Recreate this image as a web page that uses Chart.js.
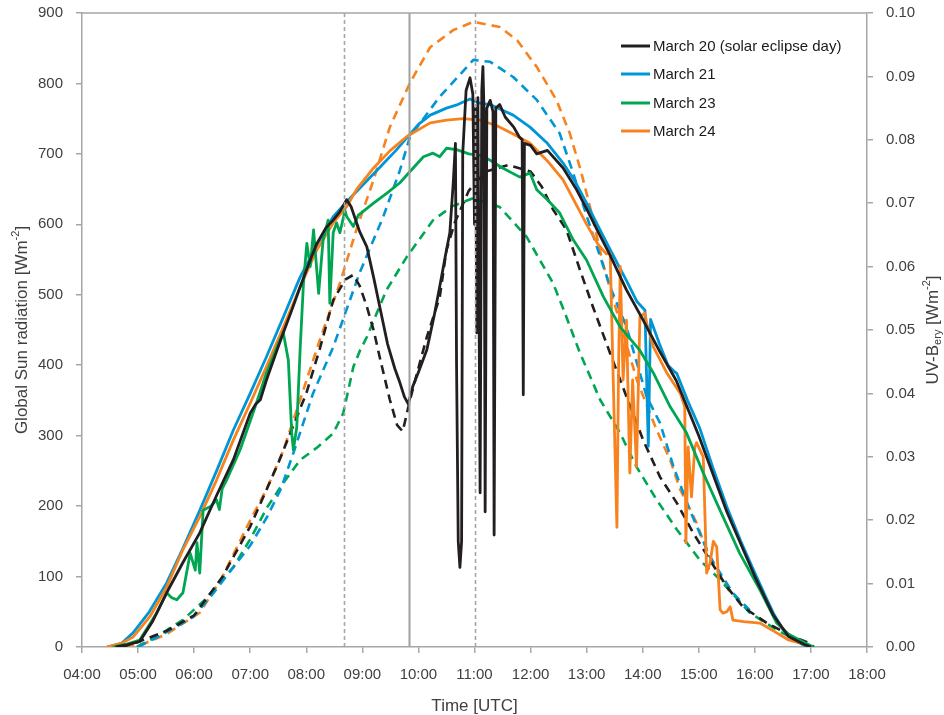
<!DOCTYPE html>
<html>
<head>
<meta charset="utf-8">
<script src="https://cdn.jsdelivr.net/npm/chart.js@4.4.1/dist/chart.umd.min.js"></script>
<style>
  html, body { margin: 0; padding: 0; background: #fff; }
</style>
</head>
<body>
<canvas id="chart" width="944" height="715"></canvas>
<script>
// readings as [hour UTC, value]; global radiation in W/m2, UV-B in W/m2
const mar20Global = [[4.6,0],[4.8,3],[5.03,8],[5.25,35],[5.51,77],[5.8,120],[6.1,162],[6.4,215],[6.7,266],[6.9,310],[7.0,332],[7.1,345],[7.18,351],[7.29,379],[7.45,415],[7.59,446],[7.75,480],[7.89,511],[8.05,545],[8.19,573],[8.35,595],[8.48,606],[8.6,618],[8.72,635],[8.8,625],[8.95,590],[9.08,568],[9.2,525],[9.31,483],[9.45,430],[9.58,395],[9.67,375],[9.75,355],[9.82,345],[9.9,370],[10.0,390],[10.15,422],[10.28,470],[10.39,516],[10.48,555],[10.56,588],[10.62,658],[10.66,715],[10.68,400],[10.71,150],[10.74,113],[10.77,150],[10.79,700],[10.85,790],[10.92,808],[10.97,785],[11.0,600],[11.02,765],[11.04,446],[11.06,780],[11.1,219],[11.13,790],[11.15,824],[11.17,760],[11.19,192],[11.22,765],[11.28,776],[11.33,760],[11.35,159],[11.38,765],[11.45,770],[11.55,752],[11.7,738],[11.8,724],[11.85,720],[11.87,358],[11.89,715],[12.0,712],[12.11,700],[12.3,705],[12.58,680],[12.8,652],[13.0,622],[13.2,590],[13.42,556],[13.71,507],[14.0,465],[14.3,420],[14.6,378],[15.0,300],[15.5,192],[16.0,100],[16.33,45],[16.6,15],[16.9,3],[17.0,0]];
const mar21Global = [[4.45,0],[4.7,5],[4.91,20],[5.2,50],[5.51,91],[5.8,140],[6.1,194],[6.4,250],[6.7,308],[7.0,360],[7.29,412],[7.6,470],[7.89,525],[8.2,572],[8.48,611],[8.72,632],[9.0,655],[9.3,680],[9.6,705],[9.85,728],[10.0,742],[10.21,755],[10.5,765],[10.7,770],[10.92,778],[11.1,772],[11.28,770],[11.5,762],[11.69,755],[11.99,738],[12.3,715],[12.58,687],[12.8,660],[13.0,630],[13.2,598],[13.42,564],[13.71,520],[13.9,490],[14.04,478],[14.07,380],[14.1,285],[14.14,465],[14.3,430],[14.45,400],[14.55,392],[14.61,388],[14.8,350],[15.02,310],[15.25,255],[15.5,199],[15.75,150],[16.0,105],[16.2,70],[16.33,48],[16.5,25],[16.7,10],[16.86,3],[17.0,0]];
const mar23Global = [[4.55,0],[4.8,4],[5.03,10],[5.33,48],[5.51,77],[5.6,70],[5.69,67],[5.8,77],[5.93,133],[6.02,109],[6.05,148],[6.1,105],[6.16,194],[6.3,200],[6.4,209],[6.45,195],[6.5,225],[6.58,237],[6.82,280],[7.05,332],[7.29,389],[7.45,420],[7.53,436],[7.59,446],[7.68,407],[7.74,304],[7.77,280],[7.83,312],[7.89,422],[7.95,517],[8.01,573],[8.07,540],[8.13,592],[8.22,502],[8.3,578],[8.39,606],[8.42,488],[8.48,588],[8.54,602],[8.6,588],[8.69,620],[8.72,611],[8.84,597],[8.93,613],[9.2,630],[9.45,645],[9.67,659],[9.85,675],[10.09,696],[10.26,701],[10.38,696],[10.5,708],[10.68,706],[10.9,700],[11.1,698],[11.28,691],[11.5,680],[11.81,667],[11.99,673],[12.11,649],[12.3,635],[12.52,616],[12.76,578],[13.0,549],[13.3,497],[13.6,454],[13.95,421],[14.19,389],[14.49,341],[14.78,304],[15.08,247],[15.38,194],[15.73,133],[16.09,81],[16.39,34],[16.6,18],[16.8,10],[17.04,0]];
const mar24Global = [[4.44,0],[4.7,5],[4.91,14],[5.21,43],[5.51,85],[5.8,138],[6.1,185],[6.4,237],[6.7,294],[7.0,346],[7.29,398],[7.59,454],[7.89,511],[8.19,564],[8.48,602],[8.72,625],[8.9,650],[9.2,680],[9.5,705],[9.8,725],[10.21,744],[10.5,748],[10.8,750],[11.1,748],[11.4,740],[11.7,728],[11.99,715],[12.3,690],[12.58,663],[12.8,630],[13.0,600],[13.2,572],[13.35,558],[13.42,559],[13.48,360],[13.54,170],[13.57,400],[13.6,540],[13.65,379],[13.71,464],[13.77,247],[13.82,379],[13.89,256],[13.95,469],[14.04,474],[14.07,460],[14.19,426],[14.43,389],[14.67,360],[14.75,341],[14.77,148],[14.81,284],[14.87,213],[14.93,284],[14.96,290],[15.08,270],[15.14,105],[15.2,119],[15.26,150],[15.32,142],[15.38,53],[15.43,48],[15.5,50],[15.56,57],[15.61,38],[15.8,36],[16.09,34],[16.39,20],[16.6,10],[16.8,6],[17.04,0]];

const mar20UVB = [[4.7,0],[5.0,0.0008],[5.5,0.0025],[6.0,0.005],[6.5,0.011],[7.0,0.019],[7.5,0.029],[8.0,0.040],[8.24,0.047],[8.48,0.0547],[8.7,0.058],[8.84,0.0587],[8.95,0.057],[9.08,0.0537],[9.2,0.05],[9.31,0.0457],[9.49,0.039],[9.62,0.035],[9.72,0.034],[9.85,0.039],[10.0,0.044],[10.15,0.0489],[10.38,0.0552],[10.5,0.0626],[10.65,0.067],[10.9,0.072],[11.2,0.075],[11.6,0.076],[12.0,0.075],[12.2,0.0726],[12.4,0.069],[12.64,0.0658],[12.88,0.0595],[13.11,0.0537],[13.42,0.0463],[13.71,0.0395],[14.01,0.0326],[14.31,0.0268],[14.61,0.0227],[14.9,0.018],[15.2,0.0137],[15.5,0.0095],[15.79,0.0063],[16.21,0.0038],[16.68,0.0016],[16.98,0.0006],[17.05,0]];
const mar21UVB = [[5.0,0],[5.4,0.0018],[5.98,0.0047],[6.3,0.008],[6.7,0.0126],[7.0,0.016],[7.3,0.0205],[7.55,0.025],[7.77,0.0306],[8.12,0.040],[8.48,0.0473],[8.95,0.059],[9.37,0.0678],[9.67,0.0752],[9.85,0.0805],[10.38,0.0868],[10.98,0.0926],[11.28,0.0923],[11.69,0.0899],[12.11,0.0863],[12.52,0.081],[12.75,0.075],[13.0,0.068],[13.42,0.0568],[13.71,0.0505],[14.07,0.0395],[14.31,0.0353],[14.55,0.0284],[14.84,0.0216],[15.2,0.0142],[15.61,0.0085],[15.91,0.0058]];
const mar23UVB = [[4.98,0],[5.4,0.002],[5.8,0.0043],[6.2,0.0075],[6.7,0.0126],[7.0,0.017],[7.3,0.022],[7.6,0.026],[7.89,0.0295],[8.2,0.0315],[8.48,0.0337],[8.66,0.0369],[8.84,0.0442],[8.96,0.0468],[9.08,0.0489],[9.43,0.0563],[9.79,0.0615],[10.26,0.0673],[10.6,0.0695],[10.98,0.0708],[11.45,0.0694],[11.93,0.0647],[12.4,0.0574],[12.59,0.0532],[12.88,0.0464],[13.24,0.039],[13.6,0.0337],[13.89,0.0284],[14.25,0.0232],[14.61,0.0185],[15.02,0.0137],[15.38,0.0106],[15.91,0.0054],[16.39,0.0027],[16.8,0.0008],[17.0,0]];
const mar24UVB = [[4.5,0],[5.1,0.0005],[5.5,0.002],[6.1,0.0054],[6.5,0.011],[7.0,0.020],[7.3,0.025],[7.59,0.031],[7.89,0.039],[8.24,0.0484],[8.6,0.0574],[8.9,0.066],[9.2,0.0737],[9.49,0.082],[9.85,0.089],[10.21,0.0946],[10.62,0.0973],[10.98,0.0986],[11.45,0.0978],[11.76,0.0957],[12.11,0.0915],[12.46,0.0863],[12.7,0.081],[12.9,0.075],[13.1,0.068],[13.29,0.0605],[13.6,0.051],[13.9,0.042],[14.25,0.0342],[14.49,0.0295],[14.67,0.0248],[14.96,0.0196],[15.14,0.0153],[15.4,0.011],[15.6,0.008]];

const dayLabels = ["March 20 (solar eclipse day)", "March 21", "March 23", "March 24"];
const dayColors = ["#231F20", "#0096D6", "#00A651", "#F7821E"];
const globalSeries = [mar20Global, mar21Global, mar23Global, mar24Global];
const uvbSeries = [mar20UVB, mar21UVB, mar23UVB, mar24UVB];
// eclipse start, maximum, end (hours UTC)
const eclipseTimes = [8.667, 9.833, 11.0];

const axisGray = "#A6A6A6";
const textColor = "#404040";
const fontFamily = "'Liberation Sans', Arial, sans-serif";
const toPoints = (s) => s.map(([x, y]) => ({ x, y }));

// draw order: black on top, then green, orange, blue, dashed underneath
const drawOrder = [0, 3, 1, 2];
const datasets = [];
dayLabels.forEach((label, i) => {
  datasets.push({
    label,
    data: toPoints(globalSeries[i]),
    borderColor: dayColors[i],
    borderWidth: 2.8,
    yAxisID: "y",
    order: drawOrder[i],
  });
});
dayLabels.forEach((label, i) => {
  datasets.push({
    label: label + " UV-B",
    data: toPoints(uvbSeries[i]),
    borderColor: dayColors[i],
    borderWidth: 2.6,
    borderDash: [9, 6],
    yAxisID: "y2",
    order: 10 + i,
  });
});

function drawRich(ctx, parts, cx, cy, angle) {
  ctx.save();
  ctx.translate(cx, cy);
  ctx.rotate(angle);
  let total = 0;
  parts.forEach((p) => {
    ctx.font = p.size + "px " + fontFamily;
    p.w = ctx.measureText(p.t).width;
    total += p.w;
  });
  let x = -total / 2;
  ctx.textBaseline = "middle";
  ctx.textAlign = "left";
  ctx.fillStyle = textColor;
  parts.forEach((p) => {
    ctx.font = p.size + "px " + fontFamily;
    ctx.fillText(p.t, x, p.dy || 0);
    x += p.w;
  });
  ctx.restore();
}

const decor = {
  id: "decor",
  afterDatasetsDraw(chart) {
    const { ctx, chartArea: a, scales } = chart;
    ctx.save();
    // eclipse markers
    eclipseTimes.forEach((t, i) => {
      const px = Math.round(scales.x.getPixelForValue(t)) + 0.5;
      ctx.beginPath();
      ctx.strokeStyle = i === 1 ? "#A0A0A0" : "#A6A6A6";
      ctx.lineWidth = i === 1 ? 2 : 1.6;
      ctx.setLineDash(i === 1 ? [] : [4, 3]);
      ctx.moveTo(px, a.bottom);
      ctx.lineTo(px, a.top);
      ctx.stroke();
    });
    ctx.setLineDash([]);
    // top edge of plot box
    ctx.beginPath();
    ctx.strokeStyle = axisGray;
    ctx.lineWidth = 1.5;
    ctx.moveTo(a.left, a.top);
    ctx.lineTo(a.right, a.top);
    ctx.stroke();
    // legend (solid series only)
    const rows = [46, 74, 103, 131];
    ctx.font = "15px " + fontFamily;
    ctx.textBaseline = "middle";
    ctx.textAlign = "left";
    dayLabels.forEach((label, i) => {
      ctx.beginPath();
      ctx.strokeStyle = dayColors[i];
      ctx.lineWidth = 3;
      ctx.moveTo(621, rows[i]);
      ctx.lineTo(650, rows[i]);
      ctx.stroke();
      ctx.fillStyle = "#1a1a1a";
      ctx.fillText(label, 653, rows[i] + 1);
    });
    ctx.restore();
  },
  afterDraw(chart) {
    const { ctx, chartArea: a } = chart;
    const mid = (a.top + a.bottom) / 2;
    drawRich(ctx, [{ t: "Time [UTC]", size: 17 }], (a.left + a.right) / 2, 706, 0);
    drawRich(ctx, [
      { t: "Global Sun radiation [Wm", size: 17 },
      { t: "-2", size: 11, dy: -6 },
      { t: "]", size: 17 },
    ], 22, mid, -Math.PI / 2);
    drawRich(ctx, [
      { t: "UV-B", size: 17 },
      { t: "ery", size: 11, dy: 5 },
      { t: " [Wm", size: 17 },
      { t: "-2", size: 11, dy: -6 },
      { t: "]", size: 17 },
    ], 933, mid, -Math.PI / 2);
  },
};

const tickFont = { family: fontFamily, size: 15 };
const gridOpts = { drawOnChartArea: false, tickLength: 6, color: axisGray, lineWidth: 1.5 };
const borderOpts = { color: axisGray, width: 1.5 };
// fixed axis boxes so the plot area sits where the original one does
const fixBox = (w) => (s) => {
  s.width = w;
  s.paddingTop = 0;
  s.paddingBottom = 0;
};

new Chart(document.getElementById("chart"), {
  type: "line",
  data: { datasets },
  options: {
    responsive: false,
    animation: false,
    devicePixelRatio: 1,
    elements: { point: { radius: 0 }, line: { tension: 0, borderCapStyle: "butt", borderJoinStyle: "round" } },
    layout: { padding: { top: 13, left: 0, right: 0, bottom: 0 } },
    plugins: { legend: { display: false }, tooltip: { enabled: false } },
    scales: {
      x: {
        type: "linear",
        min: 4,
        max: 18,
        afterFit: (s) => {
          s.height = 68;
          s.paddingLeft = 0;
          s.paddingRight = 0;
        },
        ticks: {
          stepSize: 1,
          autoSkip: false,
          maxRotation: 0,
          padding: 13,
          color: textColor,
          font: tickFont,
          callback: (v) => (v < 10 ? "0" : "") + v + ":00",
        },
        grid: gridOpts,
        border: borderOpts,
      },
      y: {
        position: "left",
        min: 0,
        max: 900,
        afterFit: fixBox(82),
        ticks: { stepSize: 100, padding: 13, color: textColor, font: tickFont },
        grid: gridOpts,
        border: borderOpts,
      },
      y2: {
        position: "right",
        min: 0,
        max: 0.1,
        afterFit: fixBox(77),
        ticks: {
          stepSize: 0.01,
          padding: 13,
          color: textColor,
          font: tickFont,
          callback: (v) => v.toFixed(2),
        },
        grid: gridOpts,
        border: borderOpts,
      },
    },
  },
  plugins: [decor],
});
</script>
</body>
</html>
